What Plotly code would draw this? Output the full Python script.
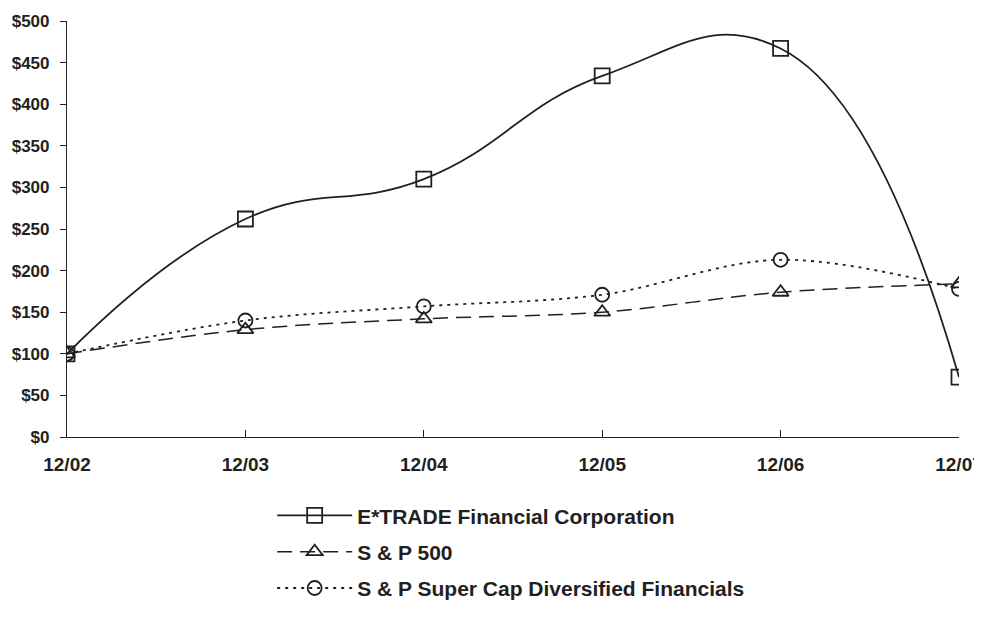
import plotly.graph_objects as go

periods = ["12/02", "12/03", "12/04", "12/05", "12/06", "12/07"]
etrade = [100, 262, 310, 434, 467, 72]
sp500 = [100, 129, 142, 150, 174, 184]
supercap = [100, 140, 157, 171, 213, 178]
y_ticks = [0, 50, 100, 150, 200, 250, 300, 350, 400, 450, 500]
y_labels = ["$" + str(v) for v in y_ticks]

INK = "#231f20"
fig = go.Figure()
fig.add_trace(go.Scatter(
    x=periods, y=etrade, name="<b>E*TRADE Financial Corporation</b>",
    mode="lines+markers", line=dict(color=INK, width=1.8, shape="spline", smoothing=1.3),
    marker=dict(symbol="square-open", size=15, color=INK, line=dict(width=1.8)),
    legendgroup="a"))
fig.add_trace(go.Scatter(
    x=periods, y=sp500, name="<b>S & P 500</b>",
    mode="lines+markers", line=dict(color=INK, width=1.5, shape="spline", smoothing=1.0, dash="15px,8px"),
    marker=dict(symbol="triangle-up-open", size=14, color=INK, line=dict(width=1.8)),
    legendgroup="b"))
fig.add_trace(go.Scatter(
    x=periods, y=supercap, name="<b>S & P Super Cap Diversified Financials</b>",
    mode="lines+markers", line=dict(color=INK, width=1.8, shape="spline", smoothing=1.0, dash="3px,5px"),
    marker=dict(symbol="circle-open", size=14, color=INK, line=dict(width=1.8)),
    legendgroup="c"))

fig.update_layout(
    width=982, height=639,
    margin=dict(l=59, r=31, t=13, b=210),
    paper_bgcolor="white", plot_bgcolor="white",
    font=dict(family="Liberation Sans, Arial, Helvetica, sans-serif", size=19, color=INK),
    showlegend=True,
    legend=dict(x=0.23, y=-0.14, xanchor="left", yanchor="top", orientation="v",
                font=dict(size=21, color=INK), itemwidth=75, tracegroupgap=6,
                bgcolor="rgba(0,0,0,0)"),
    xaxis=dict(range=[0, 5], showgrid=False, zeroline=False, showline=True, automargin=False,
               linecolor=INK, linewidth=1.2, ticks="inside", ticklen=7,
               tickcolor=INK, tickvals=periods, ticktext=["<b>%s</b>" % p for p in periods],
               tickfont=dict(size=19), ticklabelstandoff=10),
    yaxis=dict(range=[0, 500], showgrid=False, zeroline=False, showline=True, automargin=False,
               linecolor=INK, linewidth=1.2, ticks="outside", ticklen=6,
               tickcolor=INK, tickvals=y_ticks, ticktext=["<b>%s</b>" % l for l in y_labels],
               tickfont=dict(size=17), ticklabelstandoff=7),
)
fig.write_html("out.html")
